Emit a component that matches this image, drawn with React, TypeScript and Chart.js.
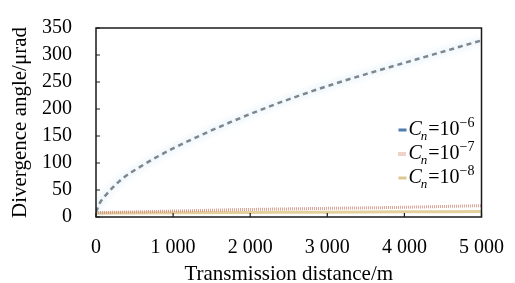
import React, { useEffect, useRef } from "react";
import { Chart, registerables } from "chart.js";

Chart.register(...registerables);

// ---- data ----
const xTicks = [0, 1000, 2000, 3000, 4000, 5000];
const xTickLabels = ["0", "1 000", "2 000", "3 000", "4 000", "5 000"];
const yTicks = [0, 50, 100, 150, 200, 250, 300, 350];
const yTickLabels = ["0", "50", "100", "150", "200", "250", "300", "350"];

const seriesNames = ["Cn=10^-6", "Cn=10^-7", "Cn=10^-8"];
const legendExponents = ["\u22126", "\u22127", "\u22128"];

const dist6 = [0, 25, 50, 100, 200, 350, 550, 800, 1000, 1400, 1750, 2200, 2600, 3100, 3750, 4400, 5000];
const angle6 = [9, 18, 26, 36, 52, 72, 91, 112, 127, 154, 176, 202, 223, 247, 275, 302, 327];

const dist7 = [0, 1000, 2000, 3000, 4000, 5000];
const angle7 = [8, 11, 14, 16, 18, 21];

const dist8 = [0, 1000, 2000, 3000, 4000, 5000];
const angle8 = [7, 8, 8.5, 9, 9.5, 10];

const FONT = "'Liberation Serif', 'Times New Roman', serif";

const toPoints = (xs: number[], ys: number[]) => xs.map((x, i) => ({ x, y: ys[i] }));

const glowPlugin = {
  id: "glow",
  beforeDatasetDraw(chart: any, args: any) {
    if (args.index === 0) {
      const ctx = chart.ctx;
      ctx.save();
      ctx.shadowColor = "rgba(160,205,235,0.9)";
      ctx.shadowBlur = 7;
    }
  },
  afterDatasetDraw(chart: any, args: any) {
    if (args.index === 0) chart.ctx.restore();
  },
};

const framePlugin = {
  id: "frame",
  afterDatasetsDraw(chart: any) {
    const { ctx, chartArea: a, scales } = chart;
    ctx.save();
    ctx.strokeStyle = "#1a1a1a";
    ctx.lineWidth = 1.5;
    ctx.strokeRect(a.left, a.top, a.right - a.left, a.bottom - a.top);
    ctx.lineWidth = 1.2;
    ctx.beginPath();
    scales.y.ticks.forEach((t: any) => {
      const py = scales.y.getPixelForValue(t.value);
      ctx.moveTo(a.left, py);
      ctx.lineTo(a.left + 4, py);
    });
    scales.x.ticks.forEach((t: any) => {
      const px = scales.x.getPixelForValue(t.value);
      ctx.moveTo(px, a.bottom);
      ctx.lineTo(px, a.bottom - 4);
    });
    ctx.stroke();
    ctx.restore();
  },
};

const legendPlugin = {
  id: "mathLegend",
  afterDraw(chart: any) {
    const { ctx, chartArea: a } = chart;
    const rows = [a.bottom - 87, a.bottom - 63, a.bottom - 39];
    const markers = [
      { color: "#4f7db0", width: 3, dash: [] as number[] },
      { color: "#e0a898", width: 4, dash: [1, 1] },
      { color: "#dcc890", width: 3, dash: [] as number[] },
    ];
    ctx.save();
    chart.data.datasets.forEach((_: any, i: number) => {
      const y = rows[i];
      const m = markers[i];
      ctx.beginPath();
      ctx.strokeStyle = m.color;
      ctx.lineWidth = m.width;
      ctx.setLineDash(m.dash);
      ctx.moveTo(a.right - 83, y);
      ctx.lineTo(a.right - 75, y);
      ctx.stroke();
      ctx.setLineDash([]);
      ctx.fillStyle = "#000";
      ctx.textBaseline = "middle";
      ctx.textAlign = "left";
      let x = a.right - 73;
      ctx.font = `italic 20px ${FONT}`;
      ctx.fillText("C", x, y);
      x += ctx.measureText("C").width;
      ctx.font = `italic 13px ${FONT}`;
      ctx.fillText("n", x - 1, y + 7);
      x += ctx.measureText("n").width;
      ctx.font = `20px ${FONT}`;
      ctx.fillText("=10", x, y);
      x += ctx.measureText("=10").width;
      ctx.font = `14px ${FONT}`;
      ctx.fillText(legendExponents[i], x, y - 7);
    });
    ctx.restore();
  },
};

export default function App() {
  const ref = useRef<HTMLCanvasElement | null>(null);

  useEffect(() => {
    if (!ref.current) return;
    const chart = new Chart(ref.current, {
      type: "line",
      data: {
        datasets: [
          {
            label: seriesNames[0],
            data: toPoints(dist6, angle6),
            borderColor: "#7e878f",
            borderWidth: 2.5,
            borderDash: [5, 4],
            pointRadius: 0,
            cubicInterpolationMode: "monotone",
            fill: false,
          },
          {
            label: seriesNames[1],
            data: toPoints(dist7, angle7),
            borderColor: "rgba(212,145,130,0.85)",
            borderWidth: 3,
            borderDash: [1, 1],
            pointRadius: 0,
            cubicInterpolationMode: "monotone",
            fill: false,
          },
          {
            label: seriesNames[2],
            data: toPoints(dist8, angle8),
            borderColor: "rgba(222,200,140,0.85)",
            borderWidth: 3,
            pointRadius: 0,
            cubicInterpolationMode: "monotone",
            fill: false,
          },
        ],
      },
      options: {
        animation: false,
        responsive: true,
        maintainAspectRatio: false,
        layout: { padding: { top: 20, right: 27, left: 0, bottom: 0 } },
        plugins: { legend: { display: false }, tooltip: { enabled: false } },
        scales: {
          x: {
            type: "linear",
            min: 0,
            max: 5000,
            grid: { display: false },
            border: { display: false },
            afterFit: (s: any) => {
              s.height = 66;
            },
            ticks: {
              stepSize: 1000,
              padding: 11,
              color: "#000",
              font: { family: FONT, size: 20 },
              maxRotation: 0,
              callback: (v: any) => {
                const i = xTicks.indexOf(Number(v));
                return i >= 0 ? xTickLabels[i] : "";
              },
            },
            title: {
              display: true,
              text: "Transmission distance/m",
              color: "#000",
              font: { family: FONT, size: 21, lineHeight: 0.85 },
              padding: { top: 0, bottom: 0 },
            },
          },
          y: {
            type: "linear",
            min: 0,
            max: 350,
            grid: { display: false },
            border: { display: false },
            afterFit: (s: any) => {
              s.width = 96;
            },
            ticks: {
              stepSize: 50,
              padding: 16,
              color: "#000",
              font: { family: FONT, size: 20 },
              callback: (v: any) => {
                const i = yTicks.indexOf(Number(v));
                return i >= 0 ? yTickLabels[i] : "";
              },
            },
            title: {
              display: true,
              text: "Divergence angle/\u03bcrad",
              color: "#000",
              font: { family: FONT, size: 21, lineHeight: 1.0 },
              padding: { top: 10, bottom: 0 },
            },
          },
        },
      },
      plugins: [glowPlugin, framePlugin, legendPlugin],
    });
    return () => chart.destroy();
  }, []);

  return (
    <div style={{ position: "fixed", left: 0, top: 0, width: 515, height: 283, background: "#fff" }}>
      <canvas ref={ref} />
    </div>
  );
}
